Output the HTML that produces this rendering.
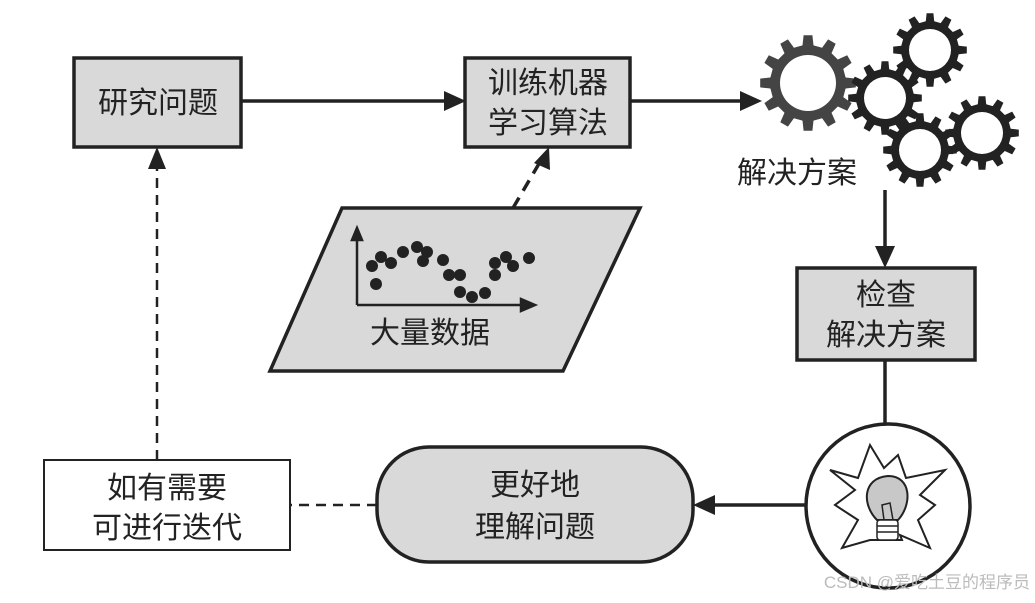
<!DOCTYPE html>
<html><head><meta charset="utf-8"><style>
html,body{margin:0;padding:0;background:#fff;}
svg text{font-family:"Liberation Sans","Noto Sans CJK SC",sans-serif;fill:#222;}
</style></head><body>
<svg id="s" width="1035" height="598" viewBox="0 0 1035 598" xmlns="http://www.w3.org/2000/svg">
<g stroke="#222" stroke-width="3.5" fill="#d9d9d9">
<rect x="74" y="58" width="167" height="89"/>
<rect x="465" y="58" width="165" height="89"/>
<rect x="797" y="268" width="178" height="92"/>
<rect x="377" y="447" width="316" height="115" rx="52"/>
<polygon points="342,208 640,208 563,371 270,371"/>
</g>
<rect x="44" y="460" width="246" height="90" fill="#fff" stroke="#222" stroke-width="2"/>
<g stroke="#222" stroke-width="3.5" fill="none">
<line x1="241" y1="101" x2="446" y2="101"/>
<line x1="630" y1="101" x2="742" y2="101"/>
<line x1="885" y1="190" x2="885" y2="250"/>
<line x1="885" y1="360" x2="885" y2="424"/>
<line x1="805" y1="505" x2="712" y2="505"/>
<line x1="513" y1="208" x2="540" y2="162" stroke-dasharray="12,8"/>
<line x1="377" y1="505" x2="290" y2="505" stroke-dasharray="10,7" stroke-width="2.5"/>
<line x1="157" y1="460" x2="157" y2="168" stroke-dasharray="10,7" stroke-width="2.5"/>
<circle cx="888" cy="506" r="82" fill="#fff"/>
</g>
<g fill="#222">
<polygon points="466,101 444,91 444,111"/>
<polygon points="762,101 740,91 740,111"/>
<polygon points="885,268 875,246 895,246"/>
<polygon points="693,505 715,495 715,515"/>
<polygon points="549,147 534,163 550,170"/>
<polygon points="157,147 148,169 166,169"/>
</g>
<g stroke="#222" stroke-width="2.5" fill="#222">
<line x1="357" y1="305" x2="357" y2="236"/><polygon points="357,228 352,240 362,240"/>
<line x1="357" y1="305" x2="522" y2="305"/><polygon points="535,305 521,299 521,311"/>
</g>
<g fill="#222" id="dots"></g>
<g id="gears"></g>
<g stroke="#222" stroke-width="2" fill="none">
<path d="M830,470 L858,478 L870,445 L884,468 L898,455 L906,478 L945,470 L920,495 L935,505 L918,520 L930,548 L900,535 L902,540 L870,540 L842,548 L858,520 L835,505 L855,490 Z"/>
</g>
<path d="M877,520 C862,505 862,478 888,476 C912,476 912,505 898,520 Z" fill="#c8c8c8" stroke="#222" stroke-width="2"/>
<g stroke="#222" stroke-width="1.5" fill="none">
<path d="M884,520 L882,505 L890,503 L893,520"/>
<rect x="877" y="520" width="21" height="20" rx="3" fill="#fff"/>
<line x1="877" y1="526" x2="898" y2="526"/><line x1="877" y1="532" x2="898" y2="532"/>
</g>
<g font-size="30" text-anchor="middle">
<text x="158" y="113">研究问题</text>
<text x="548" y="93">训练机器</text>
<text x="548" y="133">学习算法</text>
<text x="797" y="183">解决方案</text>
<text x="886" y="305">检查</text>
<text x="886" y="345">解决方案</text>
<text x="535" y="495">更好地</text>
<text x="535" y="537">理解问题</text>
<text x="167" y="498">如有需要</text>
<text x="167" y="538">可进行迭代</text>
<text x="430" y="343">大量数据</text>
</g>
<text x="1030" y="588" font-size="17" text-anchor="end" style="fill:#bbb">CSDN @爱吃土豆的程序员</text>
</svg>
<script>
var ns="http://www.w3.org/2000/svg";
var d=[[372,266],[381,257],[391,263],[376,284],[403,252],[417,247],[427,252],[423,261],[443,260],[449,275],[460,275],[460,292],[472,297],[485,293],[495,275],[495,263],[506,257],[513,266],[529,258]];
var g=document.getElementById("dots");
d.forEach(function(p){var c=document.createElementNS(ns,"circle");c.setAttribute("cx",p[0]);c.setAttribute("cy",p[1]);c.setAttribute("r",6);g.appendChild(c);});
function gear(cx,cy,ro,ri,hole,n,col){
 var s="";
 for(var i=0;i<n;i++){
  var a=i*2*Math.PI/n, w=Math.PI/n;
  var pts=[[ri,a-w*0.55],[ro,a-w*0.35],[ro,a+w*0.35],[ri,a+w*0.55]];
  pts.forEach(function(q,k){s+=(i==0&&k==0?"M":"L")+(cx+q[0]*Math.cos(q[1])).toFixed(1)+","+(cy+q[0]*Math.sin(q[1])).toFixed(1);});
 }
 s+="Z M"+(cx+hole)+","+cy+" A"+hole+","+hole+" 0 1 0 "+(cx-hole)+","+cy+" A"+hole+","+hole+" 0 1 0 "+(cx+hole)+","+cy+"Z";
 var p=document.createElementNS(ns,"path");p.setAttribute("d",s);p.setAttribute("fill",col);p.setAttribute("fill-rule","evenodd");
 document.getElementById("gears").appendChild(p);
}
gear(808,83,48,38,28,12,"#444");
gear(930,50,37,29,21,12,"#222");
gear(885,98,37,29,21,12,"#222");
gear(920,150,37,29,21,12,"#222");
gear(982,133,37,29,21,12,"#222");
</script>
</body></html>
